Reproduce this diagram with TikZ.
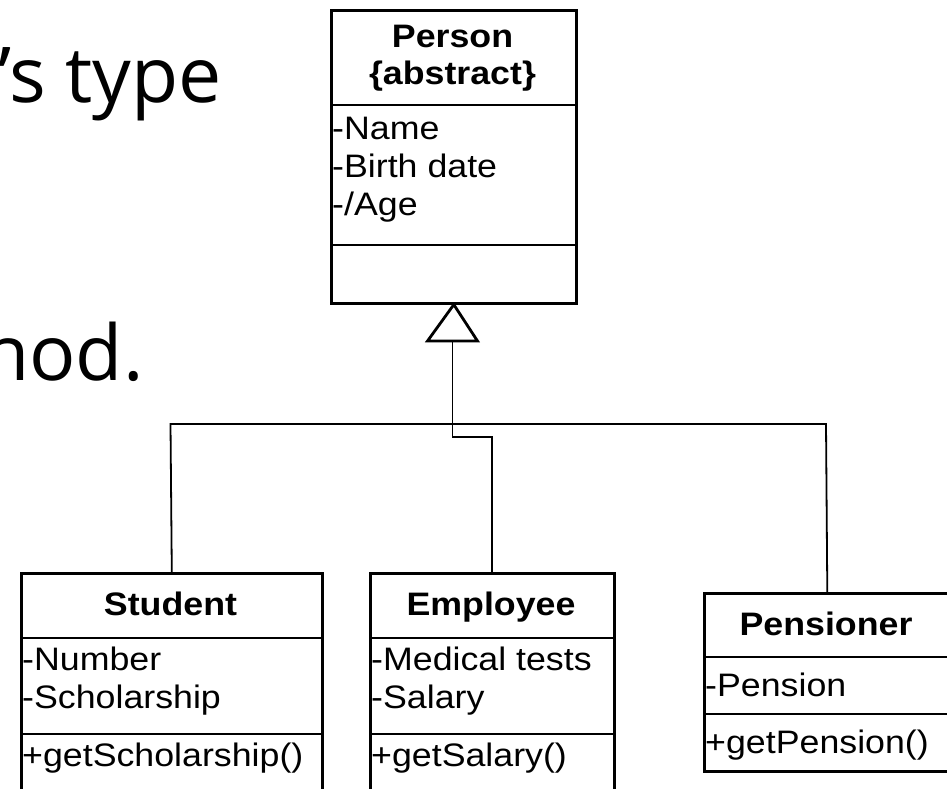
\documentclass[tikz,border=0pt]{standalone}
\usepackage{fontspec}
\newfontfamily\umlfont{Liberation Sans}[FakeStretch=1.1]
\newfontfamily\slidefont{Open Sans}
\begin{document}
\begin{tikzpicture}[x=1pt,y=-1pt,
  classbox/.style={draw, line width=2.6pt, fill=white, inner sep=0pt, anchor=north west},
  sepline/.style={line width=2.6pt},
  conn/.style={line width=1.8pt},
  gentip/.style={line width=2.8pt, fill=white, line join=miter},
  title/.style={font=\umlfont\bfseries\fontsize{32.5}{38}\selectfont, inner sep=0pt, anchor=base},
  member/.style={font=\umlfont\fontsize{32.5}{38}\selectfont, inner sep=0pt, anchor=base west},
  slide/.style={font=\slidefont\fontsize{77}{90}\selectfont, inner sep=0pt, anchor=base west}]
\useasboundingbox (0,0) rectangle (947,788);
\clip (0,0) rectangle (947,788);

% slide text running behind the diagram
\node[slide] (line1) at (-2,102) {’s type};
\node[slide] (line2) at (-18,380) {hod.};

% abstract base class
\node[classbox, minimum width=245pt, minimum height=293pt] (person) at (330,9) {};
\draw[sepline] (person.west |- 0,105) -- (person.east |- 0,105);
\draw[sepline] (person.west |- 0,245) -- (person.east |- 0,245);
\node[title] (ptitle) at (452.5,47) {Person};
\node[title] (pabs) at (452.5,84) {\{abstract\}};
\node[member] (pname) at (332,139) {-Name};
\node[member] (pbirth) at (332,177) {-Birth date};
\node[member] (page) at (332,215) {-/Age};

% subclasses
\node[classbox, minimum width=301pt, minimum height=240pt] (student) at (20,572) {};
\draw[sepline] (student.west |- 0,638) -- (student.east |- 0,638);
\draw[sepline] (student.west |- 0,734) -- (student.east |- 0,734);
\node[title] (stitle) at (170.5,615) {Student};
\node[member] (snum) at (22,670) {-Number};
\node[member] (sschol) at (22,708) {-Scholarship};
\node[member] (sget) at (22,766) {+getScholarship()};

\node[classbox, minimum width=244pt, minimum height=240pt] (employee) at (369,572) {};
\draw[sepline] (employee.west |- 0,638) -- (employee.east |- 0,638);
\draw[sepline] (employee.west |- 0,734) -- (employee.east |- 0,734);
\node[title] (etitle) at (491,615) {Employee};
\node[member] (emed) at (371,670) {-Medical tests};
\node[member] (esal) at (371,708) {-Salary};
\node[member] (eget) at (371,766) {+getSalary()};

\node[classbox, minimum width=246pt, minimum height=178pt] (pensioner) at (703,592) {};
\draw[sepline] (pensioner.west |- 0,657) -- (pensioner.east |- 0,657);
\draw[sepline] (pensioner.west |- 0,714) -- (pensioner.east |- 0,714);
\node[title] (ntitle) at (826,635) {Pensioner};
\node[member] (npen) at (705,696) {-Pension};
\node[member] (nget) at (705,753) {+getPension()};

% generalization connectors
\coordinate (tribase) at (452.5,341);
\coordinate (jog) at (452.5,437);
\coordinate (busL) at (170.5,424);
\coordinate (busR) at (826,424);
\draw[conn] (tribase) -- (jog) -| (employee.north);
\draw[conn] (student.north) -- (busL) -- (busR) -- (pensioner.north);
\draw[gentip] (person.south) -- (427.5,341) -- (477.5,341) -- cycle;
\end{tikzpicture}
\end{document}
